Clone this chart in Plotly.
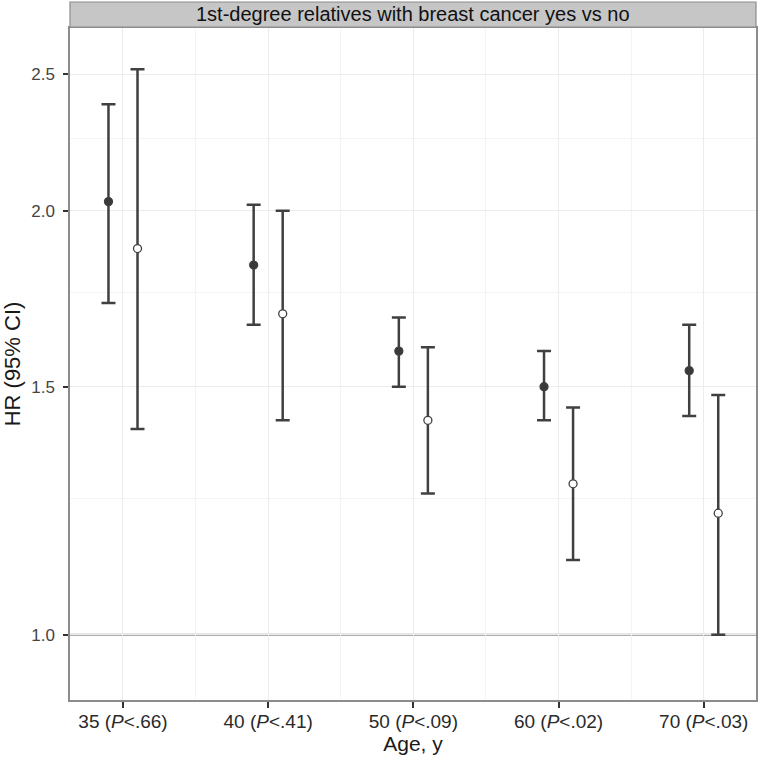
import numpy as np
import plotly.graph_objects as go

# ---- data ----
age_labels = ["35 (<i>P</i>&lt;.66)", "40 (<i>P</i>&lt;.41)", "50 (<i>P</i>&lt;.09)",
              "60 (<i>P</i>&lt;.02)", "70 (<i>P</i>&lt;.03)"]
category_pos = [1, 2, 3, 4, 5]

# series A (filled markers)
hr_a = [2.03, 1.83, 1.59, 1.50, 1.54]
lo_a = [1.72, 1.66, 1.50, 1.42, 1.43]
hi_a = [2.38, 2.02, 1.68, 1.59, 1.66]

# series B (open markers)
hr_b = [1.88, 1.69, 1.42, 1.28, 1.22]
lo_b = [1.40, 1.42, 1.26, 1.13, 1.00]
hi_b = [2.52, 2.00, 1.60, 1.45, 1.48]

y_ticks = [1.0, 1.5, 2.0, 2.5]
y_minor = [1.25, 1.75, 2.25]
x_minor = [1.5, 2.5, 3.5, 4.5]
ref_hr = 1.0
strip_title = "1st-degree relatives with breast cancer yes vs no"
dodge = 0.1

FONT = "Liberation Sans, Arial, sans-serif"
DARK = "#404040"

W, H = 760, 766
M_L, M_R, M_T, M_B = 70, 4, 28, 66

pos = np.array(category_pos, dtype=float)
fig = go.Figure()

fig.add_hline(y=ref_hr, line=dict(color="#8f8f8f", width=2), layer="below")

def add_series(xs, hr, lo, hi, fill):
    hr = np.array(hr); lo = np.array(lo); hi = np.array(hi)
    fig.add_trace(go.Scatter(
        x=xs, y=hr, mode="markers",
        marker=dict(size=8, color=fill, line=dict(color=DARK, width=1.3)),
        error_y=dict(type="data", symmetric=False, array=hi - hr, arrayminus=hr - lo,
                     color=DARK, thickness=2.5, width=7),
        showlegend=False, cliponaxis=False,
    ))

add_series(pos - dodge, hr_a, lo_a, hi_a, "#3a3a3a")
add_series(pos + dodge, hr_b, lo_b, hi_b, "white")

plot_h = H - M_T - M_B
fig.add_shape(type="rect", xref="paper", yref="paper", x0=0, x1=1,
              y0=1 + 1 / plot_h, y1=1 + 26 / plot_h,
              fillcolor="#c6c6c6", line=dict(color="#8c8c8c", width=1.2))
fig.add_annotation(text=strip_title, xref="paper", yref="paper", x=0.5,
                   y=1 + 13.5 / plot_h, yanchor="middle", showarrow=False,
                   font=dict(family=FONT, size=20, color="#111111"))

fig.update_layout(
    width=W, height=H,
    margin=dict(l=M_L, r=M_R, t=M_T, b=M_B, autoexpand=False),
    plot_bgcolor="white", paper_bgcolor="white",
    font=dict(family=FONT),
    xaxis=dict(
        range=[0.635, 5.36], tickmode="array", tickvals=category_pos, ticktext=age_labels,
        tickfont=dict(size=19, color="#2a2a2a"), ticklabelstandoff=-3,
        showgrid=True, gridcolor="#ececec", gridwidth=1,
        minor=dict(tickmode="array", tickvals=x_minor, showgrid=True,
                   gridcolor="#f4f4f4", gridwidth=1, ticklen=0),
        ticks="outside", ticklen=6, tickwidth=2, tickcolor="#333333",
        showline=True, linecolor="#8c8c8c", linewidth=1.5, mirror=True,
        zeroline=False,
        title=dict(text="Age, y", font=dict(size=21, color="#1a1a1a"), standoff=4),
    ),
    yaxis=dict(
        type="log", range=[np.log10(0.899), np.log10(2.696)],
        tickmode="array", tickvals=y_ticks, ticktext=[f"{v:.1f}" for v in y_ticks],
        tickfont=dict(size=17, color="#444444"), ticklabelstandoff=5,
        showgrid=True, gridcolor="#ececec", gridwidth=1,
        minor=dict(tickmode="array", tickvals=y_minor, showgrid=True,
                   gridcolor="#f4f4f4", gridwidth=1, ticklen=0),
        ticks="outside", ticklen=5, tickwidth=2, tickcolor="#333333",
        showline=True, linecolor="#8c8c8c", linewidth=1.5, mirror=True,
        zeroline=False,
        title=dict(text="HR (95% CI)", font=dict(size=22, color="#1a1a1a"), standoff=10),
    ),
)

fig.write_html(
    "out.html",
    config={"displayModeBar": False},
    post_script="document.body.style.margin='0';document.body.style.overflow='hidden';",
)
